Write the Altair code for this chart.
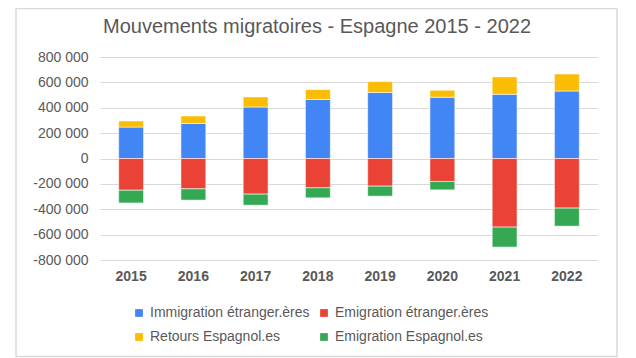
import altair as alt
import pandas as pd

years = ["2015", "2016", "2017", "2018", "2019", "2020", "2021", "2022"]
immigration_etr = [248000, 276000, 406000, 465000, 520000, 483000, 506000, 532000]
retours_esp = [48000, 59000, 79000, 78000, 86000, 55000, 137000, 134000]
emigration_etr = [-250000, -239000, -281000, -231000, -218000, -181000, -541000, -391000]
emigration_esp = [-100000, -89000, -87000, -79000, -79000, -66000, -157000, -142000]

series = ["Immigration étranger.ères", "Emigration étranger.ères",
          "Retours Espagnol.es", "Emigration Espagnol.es"]
colors = ["#4285F4", "#EA4335", "#FBBC04", "#34A853"]
# legend fills column by column: list so that rows read as in the reference
legend_order = [series[0], series[2], series[1], series[3]]
legend_colors = [colors[0], colors[2], colors[1], colors[3]]
y_ticks = [-800000, -600000, -400000, -200000, 0, 200000, 400000, 600000, 800000]

rows = []
for vals, name, idx in [(immigration_etr, series[0], 0), (emigration_etr, series[1], 1),
                        (retours_esp, series[2], 2), (emigration_esp, series[3], 3)]:
    for yr, v in zip(years, vals):
        rows.append({"annee": yr, "serie": name, "valeur": v, "ordre": idx})
df = pd.DataFrame(rows)

font = "Liberation Sans"
grey = "#595959"

bars = alt.Chart(df).mark_bar(stroke="#ffffff", strokeWidth=0.8, strokeOpacity=0.7).encode(
    x=alt.X("annee:N", title=None, sort=years,
            scale=alt.Scale(paddingInner=0.6, paddingOuter=0.3),
            axis=alt.Axis(labelAngle=0, domain=False, ticks=False, labelPadding=9,
                          labelFontWeight="bold", labelFontSize=14, labelColor=grey,
                          labelFont=font)),
    y=alt.Y("valeur:Q", title=None, stack="zero",
            scale=alt.Scale(domain=[-800000, 800000], nice=False),
            axis=alt.Axis(values=y_ticks, format=",.0f", domain=False, ticks=False,
                          labelPadding=12, labelFontSize=14, labelColor=grey,
                          labelFont=font, gridColor="#D9D9D9", gridWidth=1)),
    color=alt.Color("serie:N", scale=alt.Scale(domain=legend_order, range=legend_colors),
                    legend=alt.Legend(title=None, orient="none", legendX=32, legendY=249,
                                      columns=2, symbolType="square", symbolSize=60,
                                      symbolStrokeWidth=0, labelFontSize=14,
                                      labelColor=grey, labelFont=font, columnPadding=7,
                                      rowPadding=10, labelOffset=4)),
    order=alt.Order("ordre:Q", sort="ascending"),
)

border = alt.Chart(alt.Data(values=[{"b": 1}])).mark_rect(
    fill=None, stroke="#D9D9D9", strokeWidth=1.5, clip=False
).encode(
    x=alt.value(-84), x2=alt.value(517), y=alt.value(-48.5), y2=alt.value(299.5)
)

chart = alt.layer(border, bars).properties(
    width=498, height=203,
    autosize=alt.AutoSizeParams(type="none"),
    padding={"left": 92, "top": 49, "right": 30, "bottom": 98},
    title=alt.Title("Mouvements migratoires - Espagne 2015 - 2022", fontSize=20,
                    fontWeight="normal", color=grey, font=font, anchor="middle",
                    offset=-29, dx=-32),
).configure(
    locale={"number": {"decimal": ",", "thousands": "\u00a0", "grouping": [3],
                       "currency": ["", " €"], "minus": "-"}}
).configure_view(stroke=None)

chart.save("out.html", embed_options={"renderer": "svg", "actions": False})
